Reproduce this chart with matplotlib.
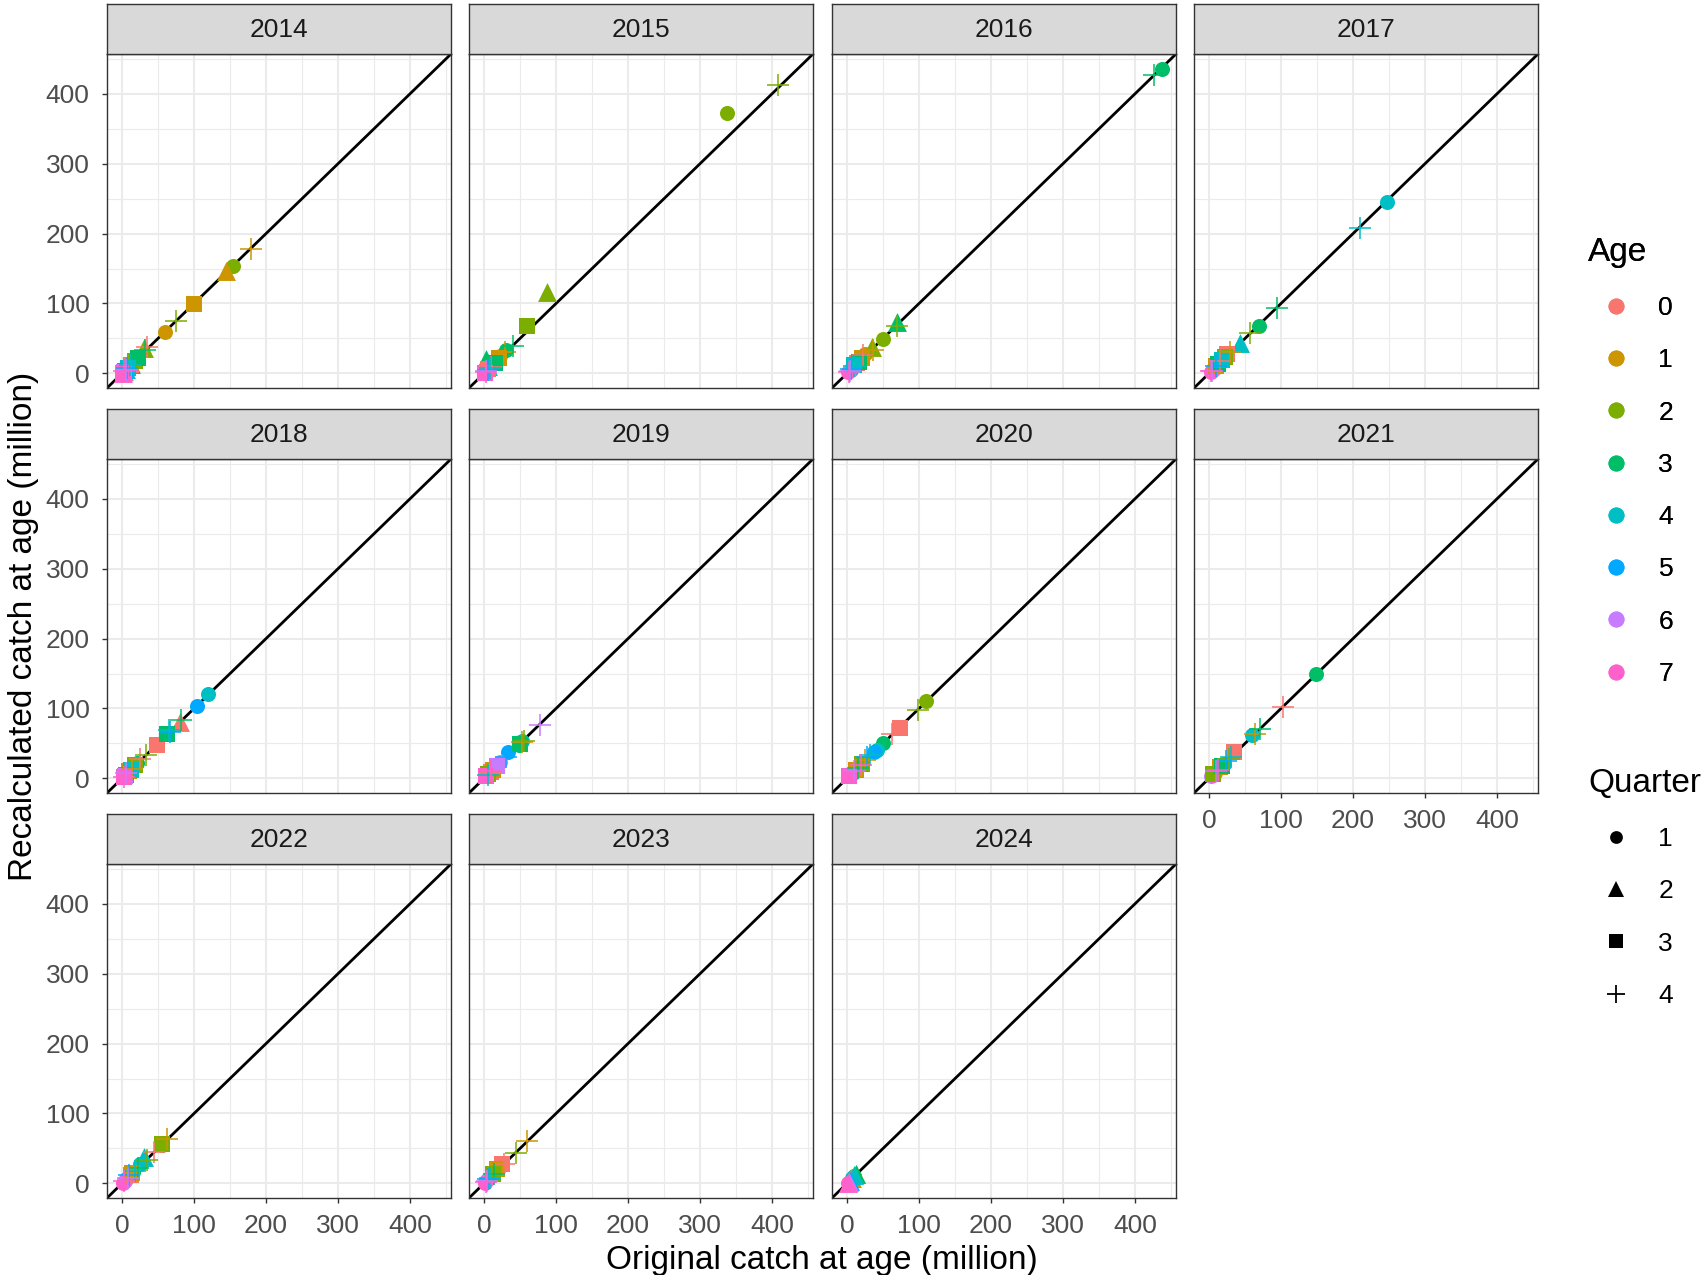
import matplotlib
matplotlib.use("Agg")
import matplotlib.pyplot as plt
from matplotlib.lines import Line2D

plt.rcParams['font.family'] = ['Liberation Sans', 'DejaVu Sans']

# data: (age, quarter, original, recalculated), catch in millions
years = [2014, 2015, 2016, 2017, 2018, 2019, 2020, 2021, 2022, 2023, 2024]
ages = [0, 1, 2, 3, 4, 5, 6, 7]
quarters = [1, 2, 3, 4]

catch_2014 = [(1, 4, 179, 178), (2, 1, 154, 153), (1, 2, 145, 146), (1, 3, 100, 99),
              (2, 4, 75, 75), (1, 1, 60, 59), (0, 4, 35, 37), (3, 4, 32, 34),
              (2, 2, 30, 36), (2, 3, 18, 18), (3, 3, 22, 22), (0, 3, 12, 12),
              (3, 1, 14, 14), (4, 1, 9, 9), (4, 4, 11, 12), (5, 1, 6, 6), (5, 4, 7, 7),
              (6, 1, 3, 3), (6, 4, 5, 5), (7, 1, 1, 1), (7, 4, 3, 3), (0, 1, 6, 6),
              (0, 2, 3, 4), (3, 2, 12, 13), (4, 2, 6, 6), (4, 3, 8, 8), (5, 3, 4, 4),
              (6, 3, 2, 2), (7, 3, 1, 1), (7, 2, 1, 1)]
catch_2015 = [(2, 4, 409, 413), (2, 1, 337, 373), (2, 2, 88, 116), (2, 3, 59, 68),
              (3, 4, 40, 39), (3, 1, 30, 33), (1, 4, 29, 30), (1, 3, 20, 22),
              (3, 2, 2, 20), (1, 1, 22, 25), (3, 3, 15, 15), (0, 4, 10, 9),
              (4, 1, 6, 6), (4, 4, 8, 7), (5, 1, 4, 4), (5, 4, 5, 5), (6, 1, 2, 2),
              (6, 4, 3, 3), (7, 1, 1, 1), (7, 4, 3, 2), (0, 1, 4, 4), (0, 3, 6, 6),
              (4, 2, 5, 10), (7, 3, 1, 1)]
catch_2016 = [(3, 1, 437, 436), (3, 4, 427, 427), (3, 2, 70, 73), (2, 4, 69, 68),
              (2, 1, 50, 49), (2, 2, 35, 38), (1, 4, 36, 34), (1, 3, 21, 22),
              (0, 4, 22, 26), (1, 1, 25, 28), (4, 1, 12, 13), (4, 4, 10, 10),
              (0, 3, 14, 15), (5, 1, 6, 6), (5, 4, 5, 6), (6, 1, 3, 3), (6, 4, 4, 4),
              (7, 1, 1, 2), (7, 4, 2, 2), (4, 3, 9, 12), (0, 1, 5, 5), (3, 3, 16, 16)]
catch_2017 = [(4, 1, 247, 245), (4, 4, 209, 208), (3, 4, 95, 94), (3, 1, 70, 68),
              (2, 4, 57, 58), (4, 2, 43, 44), (1, 4, 29, 30), (0, 3, 25, 28),
              (2, 3, 22, 24), (0, 4, 15, 18), (5, 1, 12, 12), (5, 4, 10, 11),
              (4, 3, 18, 19), (6, 1, 5, 5), (6, 4, 4, 4), (7, 1, 2, 2), (7, 4, 3, 3),
              (0, 1, 6, 6), (1, 3, 10, 10), (3, 3, 13, 13), (2, 1, 8, 8)]
catch_2018 = [(4, 1, 119, 120), (5, 1, 104, 104), (3, 4, 82, 83), (0, 2, 80, 80),
              (5, 4, 67, 67), (3, 3, 63, 63), (4, 4, 65, 69), (0, 3, 48, 48),
              (2, 4, 33, 33), (0, 4, 25, 27), (2, 3, 18, 19), (3, 1, 20, 22),
              (1, 4, 14, 14), (6, 1, 8, 8), (6, 4, 6, 7), (7, 1, 3, 3), (7, 4, 2, 2),
              (0, 1, 10, 10), (1, 3, 10, 11), (4, 3, 12, 12), (5, 3, 5, 5),
              (6, 3, 4, 4), (7, 3, 2, 2)]
catch_2019 = [(6, 4, 77, 76), (2, 4, 55, 53), (4, 1, 52, 53), (3, 1, 48, 48),
              (1, 4, 53, 52), (3, 3, 50, 49), (5, 4, 30, 30), (5, 1, 33, 37),
              (6, 1, 22, 23), (7, 1, 15, 16), (6, 3, 18, 18), (7, 4, 10, 10),
              (0, 3, 10, 9), (0, 4, 8, 8), (1, 3, 12, 12), (2, 3, 6, 6), (4, 4, 5, 5),
              (7, 3, 3, 3), (0, 1, 5, 5), (2, 1, 7, 7)]
catch_2020 = [(2, 1, 110, 110), (2, 4, 98, 98), (0, 3, 73, 72), (0, 4, 63, 63),
              (3, 1, 50, 50), (4, 1, 42, 41), (5, 1, 37, 38), (4, 4, 32, 33),
              (5, 4, 28, 31), (1, 4, 25, 26), (2, 3, 20, 21), (7, 4, 19, 19),
              (7, 1, 8, 8), (6, 1, 5, 5), (6, 4, 10, 10), (3, 4, 15, 15),
              (1, 3, 12, 12), (7, 3, 3, 3), (0, 1, 6, 6)]
catch_2021 = [(3, 1, 149, 150), (0, 4, 102, 102), (3, 4, 71, 71), (1, 4, 64, 64),
              (4, 1, 60, 62), (0, 3, 35, 37), (4, 4, 30, 30), (5, 4, 24, 25),
              (5, 1, 20, 21), (7, 4, 12, 12), (6, 4, 10, 11), (7, 1, 5, 5),
              (6, 1, 3, 3), (2, 4, 27, 28), (1, 3, 15, 16), (0, 1, 8, 8),
              (2, 3, 6, 6), (3, 3, 18, 18)]
catch_2022 = [(1, 4, 62, 63), (2, 1, 55, 55), (2, 3, 56, 56), (0, 4, 45, 45),
              (2, 4, 35, 34), (4, 2, 30, 37), (4, 1, 25, 28), (3, 4, 22, 22),
              (4, 4, 18, 18), (1, 3, 14, 15), (5, 4, 10, 12), (6, 4, 8, 8),
              (7, 4, 3, 3), (7, 1, 1, 1), (6, 1, 4, 4), (0, 3, 12, 12),
              (3, 1, 15, 16), (5, 1, 6, 6)]
catch_2023 = [(1, 4, 60, 60), (2, 4, 44, 44), (0, 3, 25, 27), (0, 4, 28, 28),
              (1, 3, 18, 20), (2, 3, 12, 13), (3, 4, 14, 14), (3, 1, 10, 11),
              (4, 4, 8, 8), (5, 4, 6, 6), (6, 4, 4, 4), (7, 4, 2, 2), (7, 1, 1, 1),
              (6, 1, 3, 3), (0, 1, 20, 22), (4, 1, 6, 6)]
catch_2024 = [(3, 2, 12, 14), (4, 2, 10, 12), (2, 2, 13, 14), (1, 2, 7, 7),
              (0, 2, 6, 7), (5, 2, 4, 4), (6, 2, 2, 2), (7, 2, 1, 1), (3, 1, 9, 10),
              (4, 1, 7, 8), (7, 1, 1, 1)]

panels = dict(zip(years, [catch_2014, catch_2015, catch_2016, catch_2017, catch_2018,
                          catch_2019, catch_2020, catch_2021, catch_2022, catch_2023,
                          catch_2024]))

age_colors = ['#F8766D', '#CD9600', '#7CAE00', '#00BE67',
              '#00BFC4', '#00A9FF', '#C77CFF', '#FF61CC']
q_markers = {1: 'o', 2: '^', 3: 's', 4: '+'}
q_sizes = {1: 117, 2: 185, 3: 125, 4: 250}

W, H = 1703, 1275
fig = plt.figure(figsize=(W / 100, H / 100), dpi=100)

lims = (-21, 457)
ticks = [0, 100, 200, 300, 400]
minor = [50, 150, 250, 350, 450]
col_left = [107, 469, 832, 1194]
row_top = [54, 459, 864]
pw, ph, strip_h = 344, 334, 50


def px_rect(left, top, w, h):
    return [left / W, 1 - (top + h) / H, w / W, h / H]


for i, yr in enumerate(years):
    r, c = divmod(i, 4)
    ax = fig.add_axes(px_rect(col_left[c], row_top[r], pw, ph))
    ax.set_xlim(lims)
    ax.set_ylim(lims)
    ax.set_xticks(ticks)
    ax.set_yticks(ticks)
    ax.set_xticks(minor, minor=True)
    ax.set_yticks(minor, minor=True)
    ax.grid(True, which='major', color='#EBEBEB', linewidth=1.5, zorder=0)
    ax.grid(True, which='minor', color='#EBEBEB', linewidth=0.8, zorder=0)
    ax.set_axisbelow(True)
    for s in ax.spines.values():
        s.set_color('#333333')
        s.set_linewidth(1.0)
    ax.tick_params(which='major', length=3.6, width=1.0, color='#333333',
                   labelsize=19, labelcolor='#4D4D4D')
    ax.tick_params(axis='x', which='major', pad=8)
    ax.tick_params(axis='y', which='major', pad=9)
    ax.tick_params(which='minor', length=0)

    ax.axline((0, 0), slope=1, color='black', linewidth=2.0, zorder=2)

    rows = panels[yr]
    for q in quarters:
        for a in ages:
            pts = [(o, n) for (ag, qq, o, n) in rows if ag == a and qq == q]
            if not pts:
                continue
            xs, ys = zip(*pts)
            lw = 1.1 if q == 4 else 0
            ax.scatter(xs, ys, marker=q_markers[q], s=q_sizes[q], c=age_colors[a],
                       linewidths=lw, zorder=3)

    # only outer panels carry axes
    bottom_row = (r == 2) or (r == 1 and c == 3)
    if not bottom_row:
        ax.tick_params(axis='x', which='both', bottom=False, labelbottom=False)
    if c != 0:
        ax.tick_params(axis='y', which='both', left=False, labelleft=False)

    # facet strip
    sax = fig.add_axes(px_rect(col_left[c], row_top[r] - strip_h, pw, strip_h))
    sax.set_facecolor('#D9D9D9')
    sax.set_xticks([])
    sax.set_yticks([])
    for s in sax.spines.values():
        s.set_color('#333333')
        s.set_linewidth(1.0)
    sax.text(0.5, 0.48, str(yr), ha='center', va='center', fontsize=19,
             color='#1A1A1A', transform=sax.transAxes)

fig.text(822 / W, 1 - 1260 / H, 'Original catch at age (million)',
         ha='center', va='center', fontsize=24)
fig.text(24 / W, 1 - 626 / H, 'Recalculated catch at age (million)',
         ha='center', va='center', rotation=90, fontsize=24)

age_handles = [Line2D([], [], linestyle='', marker='o', markersize=11.5,
                      markerfacecolor=col, markeredgewidth=0) for col in age_colors]
q_handles = [Line2D([], [], linestyle='', marker=q_markers[q], color='black',
                    markersize=q_sizes[q] ** 0.5 * 0.85,
                    markeredgewidth=1.3 if q == 4 else 0) for q in quarters]

leg_kw = dict(loc='upper left', frameon=False, fontsize=19, title_fontsize=24,
              alignment='left', borderpad=0, borderaxespad=0, handlelength=2.1,
              handletextpad=0.57, labelspacing=1.07)
leg1 = fig.legend(age_handles, [str(a) for a in ages], title='Age',
                  bbox_to_anchor=(1588 / W, 1 - 237 / H), **leg_kw)
fig.add_artist(leg1)
fig.legend(q_handles, [str(q) for q in quarters], title='Quarter',
           bbox_to_anchor=(1588 / W, 1 - 768 / H), **leg_kw)

fig.savefig('out.png', dpi=100, facecolor='white')
